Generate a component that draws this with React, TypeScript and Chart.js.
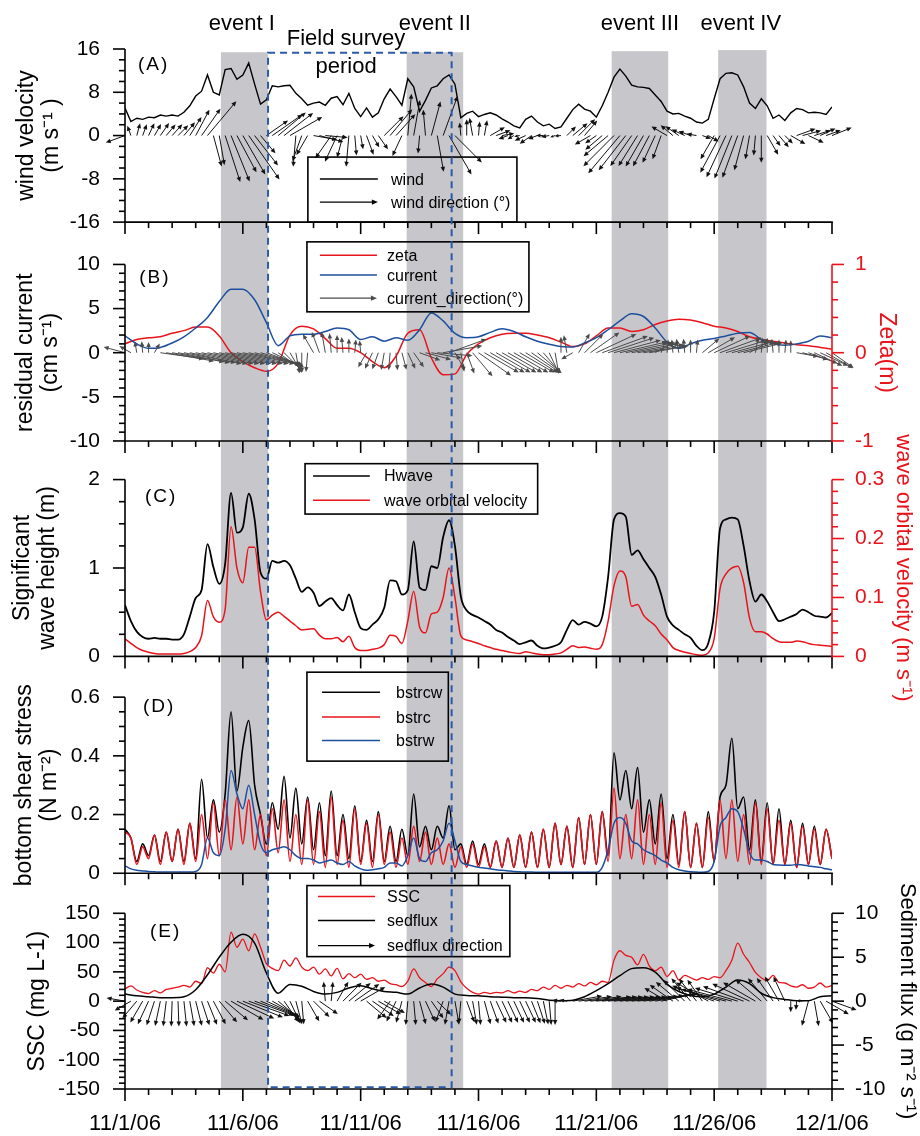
import React, { useEffect, useRef } from "react";
import { Chart, registerables } from "chart.js";
Chart.register(...registerables);

// ---------------- DATA ----------------
const xTickLabels = ["11/1/06", "11/6/06", "11/11/06", "11/16/06", "11/21/06", "11/26/06", "12/1/06"];
const eventNames = ["event I", "event II", "event III", "event IV"];
const eventStart = [4.07, 11.95, 20.65, 25.17];
const eventEnd = [6.07, 14.35, 23.05, 27.22];
const eventTopA = [15.4, 15.4, 15.6, 15.8];
const eventLabelDay = [4.96, 13.15, 21.85, 26.13];
const surveyStart = 6.07;
const surveyEnd = 13.86;

const STEP_Q = 0.25; // quarter-day series
const STEP_H = 0.5; // half-day series

// (A) wind speed, m/s
const wind = [
  5.1, 2.6, 3.2, 3.0, 3.4, 3.3, 3.8, 3.6, 3.8, 3.6,
  4.3, 5.5, 7.3, 8.2, 11.2, 8.0, 7.5, 12.2, 12.4, 10.4,
  11.2, 13.4, 9.5, 5.8, 6.6, 9.2, 9.0, 9.2, 9.3, 7.8,
  6.8, 5.6, 6.0, 6.2, 5.6, 6.9, 7.2, 5.7, 7.8, 5.0,
  3.5, 5.1, 3.4, 4.2, 6.8, 8.6, 7.2, 5.6, 10.5, 9.0,
  4.5, 6.5, 8.8, 9.2, 10.5, 11.2, 9.5, 3.3, 4.1, 4.5,
  3.5, 3.9, 4.2, 3.8, 3.1, 2.5, 1.8, 1.4, 3.0, 3.6,
  2.5, 1.8, 2.1, 1.3, 1.6, 3.2, 4.8, 5.8, 4.9, 4.5,
  3.4, 5.5, 8.0, 10.8, 12.3, 11.0, 9.3, 9.0, 8.9, 8.7,
  7.5, 6.3, 4.5, 4.0, 4.1, 3.6, 3.2, 2.5, 2.3, 3.0,
  6.8, 10.5, 11.5, 11.6, 11.2, 9.0, 6.0, 5.0, 6.8, 5.5,
  3.2, 3.8, 2.8, 4.2, 5.0, 4.8, 4.2, 4.3, 4.2, 3.9,
  5.3,
];
// (A) wind direction (deg, 0 = east, 90 = north)
const windDir = [
  200, 110, 75, 70, 65, 60, 55, 50, 48, 45,
  50, 58, 62, 55, 50, -75, -80, -72, -68, -62,
  -60, -55, -52, -50, 35, 35, 40, 38, 30, -95,
  -110, -120, -10, -15, -5, -125, -115, -105, -95, -85,
  -80, -70, -60, -55, 45, 50, 48, -115, 85, 80,
  -95, 95, 75, -80, 70, -60, -45, 95, 90, 100,
  85, 80, 30, 20, 10, 200, 210, 190, 205, 215,
  200, 180, 190, 200, 185, 45, 40, 45, 50, -150,
  -145, -140, -140, -135, -130, -128, -125, -122, -120, -118,
  -115, -110, 150, 140, 145, 155, 160, 170, -20, -30,
  -120, -118, -115, -112, -110, -105, -100, -95, -90, -60,
  -55, -50, -45, -30, 20, 15, -25, 18, 25, 20,
  22,
];

// (B) residual current (cm/s) and zeta (m), half-day
const current = [
  1.9, 1.0, 0.5, 0.6, 1.1, 1.8, 2.8, 4.0, 5.8, 7.2,
  7.2, 6.0, 3.4, 0.8, 1.9, 2.1, 2.1, 2.4, 2.8, 2.6,
  1.5, 1.8, 1.3, 1.7, 1.4, 2.6, 4.5, 3.6, 2.2, 1.7,
  1.8, 2.3, 2.7, 2.4, 1.8, 1.3, 0.95, 0.7, 0.65, 1.1,
  1.7, 2.6, 3.6, 4.4, 4.1, 2.8, 1.2, 0.5, 1.0, 1.4,
  1.6, 1.9, 2.2, 2.3, 1.5, 1.0, 0.85, 1.0, 1.3, 1.9,
  1.7,
];
const zeta = [
  0.10, 0.15, 0.17, 0.18, 0.22, 0.25, 0.29, 0.29, 0.19, 0.0,
  -0.10, -0.17, -0.21, -0.12, 0.20, 0.30, 0.27, 0.16, 0.05, 0.05,
  0.0, -0.10, -0.17, -0.04, 0.22, 0.26, -0.06, -0.25, -0.24, -0.02,
  0.10, 0.17, 0.21, 0.22, 0.22, 0.20, 0.17, 0.12, 0.07, 0.10,
  0.19, 0.28, 0.28, 0.24, 0.26, 0.32, 0.36, 0.38, 0.37, 0.34,
  0.30, 0.28, 0.24, 0.18, 0.15, 0.13, 0.11, 0.09, 0.08, 0.06,
  0.04,
];
// (B) current direction arrows, quarter-day
const curDir = [
  165, 150, 100, 95, 90, 60, -8, -10, -10, -11,
  -11, -12, -12, -12, -12, -12, -12, -12, -12, -12,
  -12, -13, -14, -16, -20, -25, -35, -45, -60, -80,
  -90, -95, 120, 110, 100, 95, 90, 95, 90, 85,
  95, -120, -115, -110, -100, -95, -85, -75, -65, -55,
  -20, -15, -10, -5, 10, 20, -60, -80, -70, -50,
  -35, -30, -30, -30, -30, -30, -30, -30, -32, -35,
  -40, -50, -65, -80, 90, 100, -150, 60, 45, 35,
  25, 20, 18, 15, 13, 12, 11, 10, 9, 10,
  30, 70, 85, 95, 100, 95, 90, 85, 40, 30,
  25, 20, 17, 15, 14, 14, 30, 80, 85, 90,
  95, 90, 85, 90, -10, -15, -20, -25, -25, -30,
  -35,
];
const curMag = [
  2.5, 1.5, 1.3, 1.3, 1.2, 1.2, 5.0, 5.5, 6, 6,
  6, 6, 6, 6, 6, 6, 6, 6, 6, 6,
  6, 6, 5.5, 5, 4.5, 4, 3.5, 3, 2.6, 2.4,
  2.3, 2.2, 2.4, 2.5, 2.4, 2.2, 2.0, 1.8, 1.6, 1.5,
  1.4, 1.9, 2.0, 2.0, 2.0, 2.0, 2.0, 2.0, 2.0, 2.0,
  2.5, 3, 3.5, 4, 4.5, 4.5, 2.2, 2.2, 2.5, 3.5,
  4.5, 4.5, 4.5, 4.5, 4.5, 4.5, 4.5, 4.5, 4.3, 4,
  3.6, 3.0, 2.6, 2.4, 1.8, 2.0, 1.5, 2.5, 3.0, 4,
  5, 5.5, 5.5, 5.5, 5.5, 5.5, 5.5, 5.3, 5, 4.5,
  2.5, 1.6, 1.5, 1.5, 1.6, 1.6, 1.5, 1.5, 2.5, 3.5,
  4.5, 5, 5, 5, 4.8, 4.5, 2.5, 1.8, 1.7, 1.7,
  1.6, 1.5, 1.5, 1.4, 2.5, 3, 3.5, 3.5, 3.5, 3.5,
  3,
];

// (C) significant wave height (m) and wave orbital velocity (m/s), quarter-day
const hwave = [
  0.58, 0.40, 0.28, 0.22, 0.20, 0.21, 0.20, 0.20, 0.19, 0.19,
  0.25, 0.45, 0.66, 0.75, 1.27, 1.01, 0.82, 1.05, 1.85, 1.40,
  1.46, 1.84, 1.55, 0.95, 0.88, 1.08, 1.06, 1.08, 1.03, 0.88,
  0.73, 0.78, 0.72, 0.57, 0.62, 0.66, 0.58, 0.52, 0.70, 0.50,
  0.32, 0.30, 0.36, 0.42, 0.55, 0.86, 0.85, 0.70, 0.75, 1.30,
  0.78, 0.75, 1.02, 1.00, 1.35, 1.54, 1.25, 0.68, 0.52, 0.47,
  0.44, 0.40, 0.36, 0.30, 0.27, 0.22, 0.18, 0.14, 0.16, 0.18,
  0.12, 0.09, 0.10, 0.12, 0.16, 0.30, 0.41, 0.36, 0.39, 0.37,
  0.34, 0.45, 0.90, 1.55, 1.62, 1.58, 1.15, 1.20, 1.10, 1.00,
  0.90, 0.70, 0.45, 0.35, 0.30, 0.25, 0.21, 0.12, 0.07, 0.15,
  0.50, 1.45, 1.55, 1.57, 1.55, 1.25, 0.85, 0.62, 0.70, 0.62,
  0.50, 0.40, 0.42, 0.45, 0.48, 0.53, 0.50, 0.46, 0.45, 0.44,
  0.49,
];
const orbital = [
  0.030, 0.022, 0.015, 0.010, 0.007, 0.005, 0.004, 0.004, 0.004, 0.004,
  0.005, 0.008, 0.015, 0.035, 0.095, 0.067, 0.058, 0.080, 0.220, 0.150,
  0.125, 0.185, 0.185, 0.110, 0.062, 0.070, 0.075, 0.068, 0.060, 0.052,
  0.045, 0.046, 0.047, 0.036, 0.030, 0.030, 0.032, 0.025, 0.034, 0.015,
  0.010, 0.010, 0.012, 0.014, 0.020, 0.036, 0.034, 0.022, 0.060, 0.110,
  0.050, 0.040, 0.072, 0.075, 0.100, 0.150, 0.100, 0.035, 0.028, 0.025,
  0.022, 0.018, 0.015, 0.012, 0.010, 0.008, 0.006, 0.005, 0.008, 0.006,
  0.004, 0.003, 0.003, 0.004, 0.006, 0.012, 0.018, 0.015, 0.016, 0.014,
  0.012, 0.020, 0.060, 0.120, 0.145, 0.135, 0.085, 0.088, 0.070, 0.060,
  0.052, 0.038, 0.028, 0.015, 0.010, 0.007, 0.005, 0.003, 0.002, 0.006,
  0.030, 0.115, 0.140, 0.150, 0.153, 0.125, 0.065, 0.042, 0.042, 0.038,
  0.030, 0.025, 0.024, 0.024, 0.026, 0.025, 0.022, 0.020, 0.019, 0.018,
  0.017,
];

// (D) bottom shear stress (N/m2), quarter-day
const bstrcw = [
  0.15, 0.12, 0.04, 0.10, 0.06, 0.13, 0.04, 0.14, 0.04, 0.15,
  0.04, 0.17, 0.05, 0.32, 0.12, 0.25, 0.14, 0.27, 0.55, 0.28,
  0.43, 0.52, 0.30, 0.20, 0.10, 0.24, 0.15, 0.33, 0.12, 0.29,
  0.10, 0.26, 0.08, 0.24, 0.06, 0.28, 0.06, 0.20, 0.05, 0.23,
  0.04, 0.18, 0.04, 0.21, 0.04, 0.16, 0.04, 0.15, 0.06, 0.27,
  0.09, 0.16, 0.08, 0.16, 0.12, 0.23, 0.08, 0.10, 0.03, 0.11,
  0.03, 0.10, 0.02, 0.11, 0.02, 0.12, 0.02, 0.13, 0.02, 0.14,
  0.02, 0.15, 0.02, 0.17, 0.03, 0.16, 0.02, 0.19, 0.03, 0.20,
  0.03, 0.21, 0.06, 0.41, 0.25, 0.35, 0.22, 0.36, 0.14, 0.25,
  0.10, 0.27, 0.05, 0.20, 0.03, 0.21, 0.02, 0.17, 0.02, 0.21,
  0.04, 0.26, 0.30, 0.46, 0.22, 0.26, 0.08, 0.25, 0.04, 0.24,
  0.03, 0.22, 0.03, 0.18, 0.02, 0.17, 0.03, 0.16, 0.03, 0.15,
  0.05,
];
const bstrc = [
  0.14, 0.12, 0.03, 0.09, 0.05, 0.13, 0.03, 0.14, 0.04, 0.15,
  0.03, 0.17, 0.04, 0.20, 0.05, 0.24, 0.06, 0.25, 0.08, 0.26,
  0.10, 0.25, 0.08, 0.20, 0.06, 0.22, 0.07, 0.25, 0.04, 0.20,
  0.03, 0.25, 0.03, 0.21, 0.02, 0.26, 0.03, 0.18, 0.02, 0.22,
  0.03, 0.17, 0.02, 0.20, 0.03, 0.14, 0.02, 0.12, 0.03, 0.16,
  0.04, 0.14, 0.03, 0.12, 0.03, 0.10, 0.02, 0.09, 0.02, 0.10,
  0.02, 0.09, 0.02, 0.11, 0.02, 0.12, 0.02, 0.13, 0.02, 0.14,
  0.02, 0.15, 0.02, 0.17, 0.03, 0.16, 0.02, 0.19, 0.03, 0.20,
  0.03, 0.21, 0.04, 0.29, 0.05, 0.20, 0.05, 0.25, 0.03, 0.20,
  0.03, 0.24, 0.02, 0.18, 0.02, 0.21, 0.02, 0.17, 0.02, 0.19,
  0.04, 0.25, 0.05, 0.25, 0.04, 0.20, 0.03, 0.24, 0.03, 0.22,
  0.03, 0.18, 0.03, 0.17, 0.02, 0.16, 0.03, 0.15, 0.03, 0.15,
  0.05,
];
const bstrw = [
  0.025, 0.015, 0.010, 0.008, 0.006, 0.005, 0.004, 0.004, 0.004, 0.004,
  0.004, 0.004, 0.006, 0.030, 0.120, 0.070, 0.060, 0.150, 0.350, 0.270,
  0.220, 0.300, 0.200, 0.100, 0.070, 0.080, 0.085, 0.090, 0.080, 0.060,
  0.050, 0.050, 0.045, 0.035, 0.040, 0.045, 0.035, 0.030, 0.040, 0.025,
  0.015, 0.010, 0.012, 0.015, 0.020, 0.035, 0.035, 0.025, 0.060, 0.120,
  0.050, 0.040, 0.070, 0.080, 0.110, 0.170, 0.110, 0.040, 0.030, 0.025,
  0.020, 0.018, 0.015, 0.012, 0.010, 0.008, 0.006, 0.005, 0.004, 0.004,
  0.003, 0.003, 0.003, 0.003, 0.003, 0.003, 0.003, 0.003, 0.003, 0.003,
  0.003, 0.020, 0.080, 0.170, 0.190, 0.170, 0.110, 0.100, 0.080, 0.070,
  0.060, 0.045, 0.035, 0.020, 0.012, 0.008, 0.005, 0.004, 0.003, 0.006,
  0.040, 0.160, 0.190, 0.220, 0.210, 0.150, 0.070, 0.045, 0.045, 0.040,
  0.030, 0.028, 0.027, 0.027, 0.030, 0.028, 0.025, 0.022, 0.020, 0.015,
  0.012,
];

// (E) SSC (mg/L) quarter-day, sediment flux (g m-2 s-1) half-day
const ssc = [
  21, 26, 19, 15, 13, 18, 14, 20, 22, 24,
  27, 24, 34, 30, 57, 48, 63, 50, 118, 92,
  106, 86, 115, 92, 64, 56, 52, 70, 60, 74,
  58, 52, 58, 46, 55, 43, 56, 38, 47, 40,
  46, 37, 40, 34, 36, 30, 28, 25, 34, 55,
  40, 32, 25, 38, 47, 58, 52, 33, 22, 15,
  12, 15, 13, 15, 14, 18, 14, 17, 15, 20,
  18, 24, 20, 27, 22, 27, 24, 30, 26, 32,
  28, 34, 32, 70, 86, 78, 75, 62, 80, 60,
  52, 58, 42, 52, 36, 44, 40, 36, 40, 37,
  42, 40, 52, 70, 99, 80, 66, 49, 40, 35,
  44, 32, 31, 26, 24, 28, 22, 24, 31, 24,
  27,
];
const sedflux = [
  0.8, 0.6, 0.5, 0.4, 0.4, 0.5, 1.3, 3.0, 5.0, 6.7,
  7.6, 6.6, 3.2, 0.9, 1.9, 1.7, 1.1, 0.8, 1.0, 1.5,
  1.75, 1.4, 1.1, 1.0, 0.8, 1.5, 1.95, 1.6, 0.8, 0.65,
  0.6, 0.5, 0.45, 0.4, 0.4, 0.3, 0.1, 0.05, 0.1, 0.5,
  1.2, 2.0, 2.9, 3.7, 3.8, 3.3, 1.9, 1.1, 0.65, 0.5,
  0.8, 1.6, 2.4, 2.0, 0.9, 0.4, 0.2, 0.05, 0.05, 0.5,
  0.6,
];
const fluxDir = [
  170, -150, -130, -120, -115, -108, -102, -97, -92, -88,
  -84, -80, -76, -72, -68, -62, -50, -40, -30, -25,
  -22, -20, -20, -22, -25, -30, -40, -55, -65, -75,
  -85, -60, -45, -35, 95, 85, 60, 45, 40, 35,
  30, -40, -35, -30, -30, -125, -115, -105, -95, -85,
  -75, -65, -55, -45, -110, -100, -80, -95, -70, -80,
  -85, -75, -70, -65, -65, -65, -65, -65, -65, -68,
  -72, -78, -85, -90, 175, 170, 10, 8, 7, 6,
  6, 6, 6, 6, 6, 6, 6, 7, 8, 9,
  10, 12, 150, 145, 140, 135, 130, 128, 125, 150,
  160, 163, 165, 165, 163, 160, 155, 150, 140, 130,
  125, 120, 115, -90, -95, 175, -105, -80, -60, -30,
  -20,
];
const fluxMag = [
  2.5, 2.5, 3.0, 3.3, 3.4, 3.4, 3.4, 3.4, 3.4, 3.4,
  3.4, 3.4, 3.4, 3.4, 3.4, 3.5, 3.7, 4.0, 5.0, 5.5,
  5.8, 5.8, 5.6, 5.2, 4.8, 4.3, 3.8, 3.4, 3.3, 3.2,
  3.1, 3.1, 3.0, 3.0, 2.6, 2.6, 3.0, 3.5, 3.8, 4.0,
  3.8, 3.5, 3.5, 3.5, 3.2, 3.0, 3.0, 3.0, 3.2, 3.2,
  3.2, 3.0, 2.8, 2.6, 3.0, 3.2, 3.2, 3.0, 3.0, 3.2,
  3.2, 3.2, 3.2, 3.2, 3.2, 3.2, 3.2, 3.2, 3.2, 3.2,
  3.2, 3.2, 3.2, 3.2, 1.2, 1.0, 4.0, 4.5, 5.0, 5.5,
  5.5, 5.5, 5.5, 5.5, 5.5, 5.5, 5.5, 5.5, 5.5, 5.5,
  5.3, 5.0, 3.5, 3.8, 4.0, 4.0, 4.0, 3.8, 3.5, 5.0,
  6.0, 6.2, 6.2, 6.2, 6.0, 5.8, 5.5, 5.0, 4.5, 4.0,
  3.8, 3.8, 3.6, 1.5, 1.2, 0.8, 3.4, 3.4, 3.4, 3.5,
  3.5,
];

// ---------------- STYLE ----------------
const W = 920;
const H = 1136;
const LEFT_W = 125;
const RIGHT_W = 88;
const XAXIS_H = 47;
const FONT = "'Liberation Sans', Arial, Helvetica, sans-serif";
const RED = "#e8141c";
const BLUE = "#1d4f9f";
const BAND = "#c7c7cb";
const ARROW_GRAY = "#4a4a4a";
const SURVEY_BLUE = "#2a5aa8";
const WIND_ARROW_SCALE = 0.74;
const CUR_ARROW_SCALE = 1.0;
const FLUX_ARROW_SCALE = 0.85;

const toXY = (arr: number[], step: number) => arr.map((v, i) => ({ x: i * step, y: v }));
const fmt = (v: number) => String(Math.round(v * 100) / 100);

function leftAxis(o: any) {
  return {
    type: "linear", axis: "y", position: "left", stack: "panels",
    stackWeight: o.sw, weight: o.weight, min: o.min, max: o.max,
    grid: { display: false, drawTicks: false }, border: { display: false },
    ticks: { stepSize: o.step, padding: 25, autoSkip: false, color: "#000", font: { family: FONT, size: 21 }, callback: (v: number) => fmt(v) },
    title: { display: true, text: o.title, color: "#000", font: { family: FONT, size: 23, lineHeight: 1.1 }, padding: { top: o.tp, bottom: 0 } },
    afterFit: (s: any) => { s.width = LEFT_W; },
  };
}
function rightAxis(o: any) {
  return {
    type: "linear", axis: "y", position: "right", stack: "panels",
    stackWeight: o.sw, weight: o.weight, min: o.min, max: o.max,
    grid: { display: false, drawTicks: false }, border: { display: false },
    ticks: { stepSize: o.step, padding: 23, autoSkip: false, color: o.color, font: { family: FONT, size: 21 }, callback: (v: number) => fmt(v) },
    title: { display: true, text: o.title, color: o.color, font: { family: FONT, size: o.ts || 22, lineHeight: 1.1 }, padding: { top: o.tp, bottom: 0 } },
    afterFit: (s: any) => { s.width = RIGHT_W; },
  };
}
function spacer(position: string, weight: number, sw: number) {
  return { type: "linear", axis: "y", position, stack: "panels", stackWeight: sw, weight, display: false, min: 0, max: 1,
    afterFit: (s: any) => { s.width = position === "left" ? LEFT_W : RIGHT_W; } };
}

const axisSpecs = [
  { id: "yA", side: "left", major: 8, minor: 2, color: "#000" },
  { id: "yB", side: "left", major: 5, minor: 1, color: "#000" },
  { id: "rB", side: "right", major: 1, minor: 0.2, color: RED },
  { id: "yC", side: "left", major: 1, minor: 0.25, color: "#000" },
  { id: "rC", side: "right", major: 0.1, minor: 0.02, color: RED },
  { id: "yD", side: "left", major: 0.2, minor: 0.05, color: "#000" },
  { id: "yE", side: "left", major: 50, minor: 10, color: "#000" },
  { id: "rE", side: "right", major: 5, minor: 1, color: "#000" },
];
const panelIds = ["yA", "yB", "yC", "yD", "yE"];

const legends = [
  { axis: "yA", x0: 7.76, x1: 16.63, y0: -3.98, y1: -16, sx0: 8.27, sx1: 10.73, tx: 11.29,
    entries: [{ kind: "line", color: "#000", label: "wind", y: -8.05 }, { kind: "arrow", color: "#000", label: "wind direction (°)", y: -12.3 }] },
  { axis: "yB", x0: 7.72, x1: 17.14, y0: 12.56, y1: 4.63, sx0: 8.27, sx1: 10.69, tx: 11.12,
    entries: [{ kind: "line", color: RED, label: "zeta", y: 11.05 }, { kind: "line", color: BLUE, label: "current", y: 8.79 }, { kind: "arrow", color: ARROW_GRAY, label: "current_direction(°)", y: 6.18 }] },
  { axis: "yC", x0: 7.64, x1: 17.51, y0: 2.18, y1: 1.61, sx0: 7.98, sx1: 10.39, tx: 10.99,
    entries: [{ kind: "line", color: "#000", label: "Hwave", y: 2.04 }, { kind: "line", color: RED, label: "wave orbital velocity", y: 1.766 }] },
  { axis: "yD", x0: 7.72, x1: 13.72, y0: 0.685, y1: 0.382, sx0: 8.36, sx1: 10.82, tx: 11.5,
    entries: [{ kind: "line", color: "#000", label: "bstrcw", y: 0.617 }, { kind: "line", color: RED, label: "bstrc", y: 0.532 }, { kind: "line", color: BLUE, label: "bstrw", y: 0.452 }] },
  { axis: "yE", x0: 7.72, x1: 16.33, y0: 197.3, y1: 76.0, sx0: 8.19, sx1: 10.61, tx: 11.12,
    entries: [{ kind: "line", color: RED, label: "SSC", y: 178.5 }, { kind: "line", color: "#000", label: "sedflux", y: 137.5 }, { kind: "arrow", color: "#000", label: "sedflux direction", y: 94.8 }] },
];
const panelLabels = [
  { axis: "yA", day: 0.55, v: 13.1, text: "(A)" },
  { axis: "yB", day: 0.6, v: 8.5, text: "(B)" },
  { axis: "yC", day: 0.85, v: 1.805, text: "(C)" },
  { axis: "yD", day: 0.76, v: 0.568, text: "(D)" },
  { axis: "yE", day: 1.06, v: 117.9, text: "(E)" },
];

function drawArrow(ctx: CanvasRenderingContext2D, x0: number, y0: number, x1: number, y1: number, color: string, head = 5) {
  const dx = x1 - x0, dy = y1 - y0;
  const len = Math.hypot(dx, dy);
  if (len < 0.5) return;
  const ux = dx / len, uy = dy / len;
  const h = Math.min(head, len * 0.6);
  const w = h * 0.45;
  ctx.strokeStyle = color;
  ctx.fillStyle = color;
  ctx.beginPath();
  ctx.moveTo(x0, y0);
  ctx.lineTo(x1 - ux * h * 0.7, y1 - uy * h * 0.7);
  ctx.stroke();
  ctx.beginPath();
  ctx.moveTo(x1, y1);
  ctx.lineTo(x1 - ux * h - uy * w, y1 - uy * h + ux * w);
  ctx.lineTo(x1 - ux * h + uy * w, y1 - uy * h - ux * w);
  ctx.closePath();
  ctx.fill();
}

function drawQuiver(ctx: CanvasRenderingContext2D, xs: any, ys: any, step: number, dirs: number[], mags: number[], k: number, color: string) {
  const by = ys.getPixelForValue(0);
  const pu = by - ys.getPixelForValue(1);
  ctx.lineWidth = 1;
  for (let i = 0; i < dirs.length; i++) {
    const bx = xs.getPixelForValue(i * step);
    const L = mags[i] * k * pu;
    const a = (dirs[i] * Math.PI) / 180;
    drawArrow(ctx, bx, by, bx + L * Math.cos(a), by - L * Math.sin(a), color);
  }
}

const decorPlugin = {
  id: "decor",
  beforeDatasetsDraw(chart: any) {
    const { ctx, scales } = chart;
    const xs = scales.x;
    ctx.save();
    ctx.fillStyle = BAND;
    for (let k = 0; k < eventStart.length; k++) {
      const x0 = xs.getPixelForValue(eventStart[k]);
      const x1 = xs.getPixelForValue(eventEnd[k]);
      const y0 = scales.yA.getPixelForValue(eventTopA[k]);
      const y1 = scales.yE.bottom;
      ctx.fillRect(x0, y0, x1 - x0, y1 - y0);
    }
    ctx.restore();
  },
  afterDatasetsDraw(chart: any) {
    const { ctx, scales, chartArea } = chart;
    const xs = scales.x;
    ctx.save();
    // arrows
    drawQuiver(ctx, xs, scales.yA, STEP_Q, windDir, wind, WIND_ARROW_SCALE, "#111");
    drawQuiver(ctx, xs, scales.yB, STEP_Q, curDir, curMag, CUR_ARROW_SCALE, ARROW_GRAY);
    drawQuiver(ctx, xs, scales.rE, STEP_Q, fluxDir, fluxMag, FLUX_ARROW_SCALE, "#111");

    // axes lines and ticks
    ctx.lineWidth = 1.6;
    ctx.lineCap = "butt";
    const L = chartArea.left, R = chartArea.right;
    for (const id of panelIds) {
      const s = scales[id];
      ctx.strokeStyle = "#000";
      ctx.beginPath();
      ctx.moveTo(L - 0.8, s.bottom);
      ctx.lineTo(R + 0.8, s.bottom);
      ctx.stroke();
      for (let d = 0; d <= 30; d++) {
        const px = xs.getPixelForValue(d);
        const len = d % 5 === 0 ? 12 : 6;
        ctx.beginPath();
        ctx.moveTo(px, s.bottom);
        ctx.lineTo(px, s.bottom + len);
        ctx.stroke();
      }
    }
    for (const sp of axisSpecs) {
      const s = scales[sp.id];
      const xLine = sp.side === "left" ? L : R;
      const dir = sp.side === "left" ? -1 : 1;
      ctx.strokeStyle = sp.color;
      ctx.beginPath();
      ctx.moveTo(xLine, s.top);
      ctx.lineTo(xLine, s.bottom + 0.8);
      ctx.stroke();
      const n = Math.round((s.max - s.min) / sp.minor);
      for (let k = 0; k <= n; k++) {
        const v = s.min + k * sp.minor;
        const r = v / sp.major;
        const isMajor = Math.abs(r - Math.round(r)) < 1e-6;
        const py = s.getPixelForValue(v);
        ctx.beginPath();
        ctx.moveTo(xLine, py);
        ctx.lineTo(xLine + dir * (isMajor ? 12 : 6), py);
        ctx.stroke();
      }
    }

    // legends
    for (const lg of legends) {
      const ys = scales[lg.axis];
      const bx0 = xs.getPixelForValue(lg.x0), bx1 = xs.getPixelForValue(lg.x1);
      const by0 = ys.getPixelForValue(lg.y0), by1 = ys.getPixelForValue(lg.y1);
      ctx.strokeStyle = "#000";
      ctx.lineWidth = 1.6;
      ctx.strokeRect(bx0, by0, bx1 - bx0, by1 - by0);
      const sx0 = xs.getPixelForValue(lg.sx0), sx1 = xs.getPixelForValue(lg.sx1), tx = xs.getPixelForValue(lg.tx);
      ctx.font = `16px ${FONT}`;
      ctx.textAlign = "left";
      ctx.textBaseline = "middle";
      for (const e of lg.entries) {
        const py = ys.getPixelForValue(e.y);
        if (e.kind === "line") {
          ctx.strokeStyle = e.color;
          ctx.lineWidth = 1.5;
          ctx.beginPath();
          ctx.moveTo(sx0, py);
          ctx.lineTo(sx1, py);
          ctx.stroke();
        } else {
          ctx.lineWidth = 1.2;
          drawArrow(ctx, sx0, py, sx1, py, e.color, 6);
        }
        ctx.fillStyle = "#000";
        ctx.fillText(e.label, tx, py + 1);
      }
    }

    // panel labels
    ctx.fillStyle = "#000";
    ctx.font = `19px ${FONT}`;
    ctx.textAlign = "left";
    ctx.textBaseline = "middle";
    try { (ctx as any).letterSpacing = "2px"; } catch (e) {}
    for (const p of panelLabels) {
      ctx.fillText(p.text, xs.getPixelForValue(p.day), scales[p.axis].getPixelForValue(p.v));
    }
    try { (ctx as any).letterSpacing = "0px"; } catch (e) {}

    // survey rectangle
    const rx0 = xs.getPixelForValue(surveyStart), rx1 = xs.getPixelForValue(surveyEnd);
    const ry0 = scales.yA.getPixelForValue(15.3), ry1 = scales.yE.getPixelForValue(-147);
    ctx.strokeStyle = SURVEY_BLUE;
    ctx.lineWidth = 2;
    ctx.setLineDash([7, 5]);
    ctx.strokeRect(rx0, ry0, rx1 - rx0, ry1 - ry0);
    ctx.setLineDash([]);

    // event labels
    ctx.fillStyle = "#000";
    ctx.font = `22px ${FONT}`;
    ctx.textAlign = "center";
    ctx.textBaseline = "alphabetic";
    for (let k = 0; k < eventNames.length; k++) {
      ctx.fillText(eventNames[k], xs.getPixelForValue(eventLabelDay[k]), scales.yA.getPixelForValue(19.5));
    }
    const fx = xs.getPixelForValue(9.38);
    ctx.fillText("Field survey", fx, scales.yA.getPixelForValue(16.75));
    ctx.fillText("period", fx, scales.yA.getPixelForValue(11.56));
    ctx.restore();
  },
};

export default function App() {
  const ref = useRef<HTMLCanvasElement>(null);
  useEffect(() => {
    if (!ref.current) return;
    const lineDs = (label: string, data: any[], yAxisID: string, color: string, width: number, smooth: boolean) => ({
      label, data, yAxisID, borderColor: color, backgroundColor: color, borderWidth: width, pointRadius: 0,
      fill: false, tension: 0, cubicInterpolationMode: smooth ? "monotone" : "default",
    });
    const config: any = {
      type: "line",
      data: {
        datasets: [
          lineDs("wind", toXY(wind, STEP_Q), "yA", "#000", 1.4, false),
          lineDs("current", toXY(current, STEP_H), "yB", BLUE, 1.5, true),
          lineDs("zeta", toXY(zeta, STEP_H), "rB", RED, 1.5, true),
          lineDs("Hwave", toXY(hwave, STEP_Q), "yC", "#000", 1.8, true),
          lineDs("wave orbital velocity", toXY(orbital, STEP_Q), "rC", RED, 1.5, true),
          lineDs("bstrw", toXY(bstrw, STEP_Q), "yD", BLUE, 1.5, true),
          lineDs("bstrc", toXY(bstrc, STEP_Q), "yD", RED, 1.6, true),
          lineDs("bstrcw", toXY(bstrcw, STEP_Q), "yD", "#000", 1.6, true),
          lineDs("sedflux", toXY(sedflux, STEP_H), "rE", "#000", 1.5, true),
          lineDs("SSC", toXY(ssc, STEP_Q), "yE", RED, 1.3, true),
        ],
      },
      options: {
        responsive: false,
        animation: false,
        devicePixelRatio: 1,
        events: [],
        layout: { padding: { top: 49, left: 0, right: 0, bottom: 0 }, autoPadding: false },
        plugins: { legend: { display: false }, tooltip: { enabled: false }, title: { display: false } },
        scales: {
          x: {
            type: "linear", position: "bottom", min: 0, max: 30,
            grid: { display: false, drawTicks: false }, border: { display: false },
            ticks: { stepSize: 5, padding: 22, autoSkip: false, maxRotation: 0, color: "#000", font: { family: FONT, size: 22 },
              callback: (v: number) => xTickLabels[Math.round(v / 5)] ?? "" },
            afterFit: (s: any) => { s.height = XAXIS_H; },
          },
          yA: leftAxis({ weight: 9, sw: 173, min: -16, max: 16, step: 8, title: ["wind velocity", "(m s⁻¹ )"], tp: 14 }),
          lg1: spacer("left", 8, 42.3),
          yB: leftAxis({ weight: 7, sw: 176.4, min: -10, max: 10, step: 5, title: ["residual current", "(cm s⁻¹)"], tp: 13 }),
          lg2: spacer("left", 6, 38.6),
          yC: leftAxis({ weight: 5, sw: 176.7, min: 0, max: 2, step: 1, title: ["Significant", "wave height (m)"], tp: 10 }),
          lg3: spacer("left", 4, 40.7),
          yD: leftAxis({ weight: 3, sw: 176, min: 0, max: 0.6, step: 0.2, title: ["bottom shear stress", "(N m⁻²)"], tp: 12 }),
          lg4: spacer("left", 2, 40),
          yE: leftAxis({ weight: 1, sw: 175.6, min: -150, max: 150, step: 50, title: "SSC (mg L-1)", tp: 25 }),
          rA: spacer("right", 1, 173),
          rg1: spacer("right", 2, 42.3),
          rB: rightAxis({ weight: 3, sw: 176.4, min: -1, max: 1, step: 1, title: "Zeta(m)", tp: 21, color: RED, ts: 23 }),
          rg2: spacer("right", 4, 38.6),
          rC: rightAxis({ weight: 5, sw: 176.7, min: 0, max: 0.3, step: 0.1, title: "wave orbital velocity (m s⁻¹)", tp: 5, color: RED }),
          rg3: spacer("right", 6, 40.7),
          rD: spacer("right", 7, 176),
          rg4: spacer("right", 8, 40),
          rE: rightAxis({ weight: 9, sw: 175.6, min: -10, max: 10, step: 5, title: "Sediment flux (g m⁻² s⁻¹)", tp: 1, color: "#000" }),
        },
      },
      plugins: [decorPlugin],
    };
    const chart = new Chart(ref.current, config);
    return () => chart.destroy();
  }, []);
  return (
    <div style={{ position: "absolute", left: 0, top: 0, width: W, height: H, background: "#fff" }}>
      <canvas ref={ref} width={W} height={H} style={{ display: "block", width: W, height: H }} />
    </div>
  );
}
